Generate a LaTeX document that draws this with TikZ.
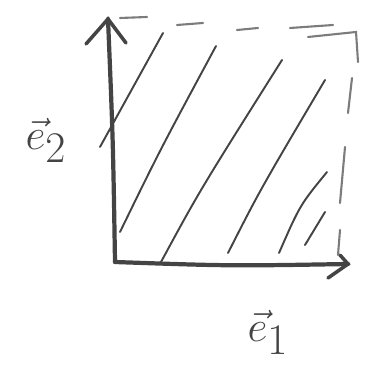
\documentclass[tikz,border=0pt]{standalone}
\usepackage{amsmath,amssymb}
\usepackage{xcolor}
\usetikzlibrary{arrows.meta, positioning}
\definecolor{pencil}{HTML}{444444}

\begin{document}
\begin{tikzpicture}[
    x=0.02cm, y=-0.02cm,
    axis/.style={line width=2.4pt, color=pencil, line cap=round, line join=round},
    tip/.style={line width=2pt, color=pencil, line cap=round},
    hatch/.style={line width=1.1pt, color=pencil, line cap=round},
    edge/.style={line width=1.2pt, color=pencil!70, line cap=round},
    vlabel/.style={font=\fontsize{42}{42}\selectfont, color=pencil, inner sep=0pt}
]
\useasboundingbox (0,0) rectangle (377,381);
% Axes
\coordinate (o) at (115,262);
\coordinate (xend) at (348,264);
\coordinate (yend) at (108,19);
\draw[axis] (o) .. controls (230,266) .. (xend);
\draw[axis] (o) .. controls (113,140) .. (yend);
\draw[tip] (328,278) -- (xend) -- (340,255);
\draw[tip] (86,44) -- (yend) -- (126,43);
% Labels
\node[vlabel] (e2) at (46,140) {$\vec{e}_2$};
\node[vlabel] (e1) at (268,332) {$\vec{e}_1$};
% Dashed top and right sides
\foreach \a/\b in {{(120,18)}/{(147,17)}, {(177,25)}/{(203,23)}, {(237,30)}/{(258,28)}, {(290,28)}/{(333,25)}}
  \draw[edge] \a -- \b;
\draw[edge] (308,37) -- (356,32) -- (358,62);
\foreach \a/\b in {{(352,78)}/{(348,113)}, {(345,147)}/{(340,203)}, {(340,230)}/{(338,255)}}
  \draw[edge] \a -- \b;
% Hatching
\draw[hatch] (163,33) -- (100,147);
\draw[hatch] (216,46) .. controls (160,150) .. (120,232);
\draw[hatch] (282,60) .. controls (200,190) .. (161,262);
\draw[hatch] (325,80) .. controls (260,190) .. (228,253);
\draw[hatch] (327,172) .. controls (300,205) .. (279,253);
\draw[hatch] (325,212) -- (305,245);
\end{tikzpicture}
\end{document}
